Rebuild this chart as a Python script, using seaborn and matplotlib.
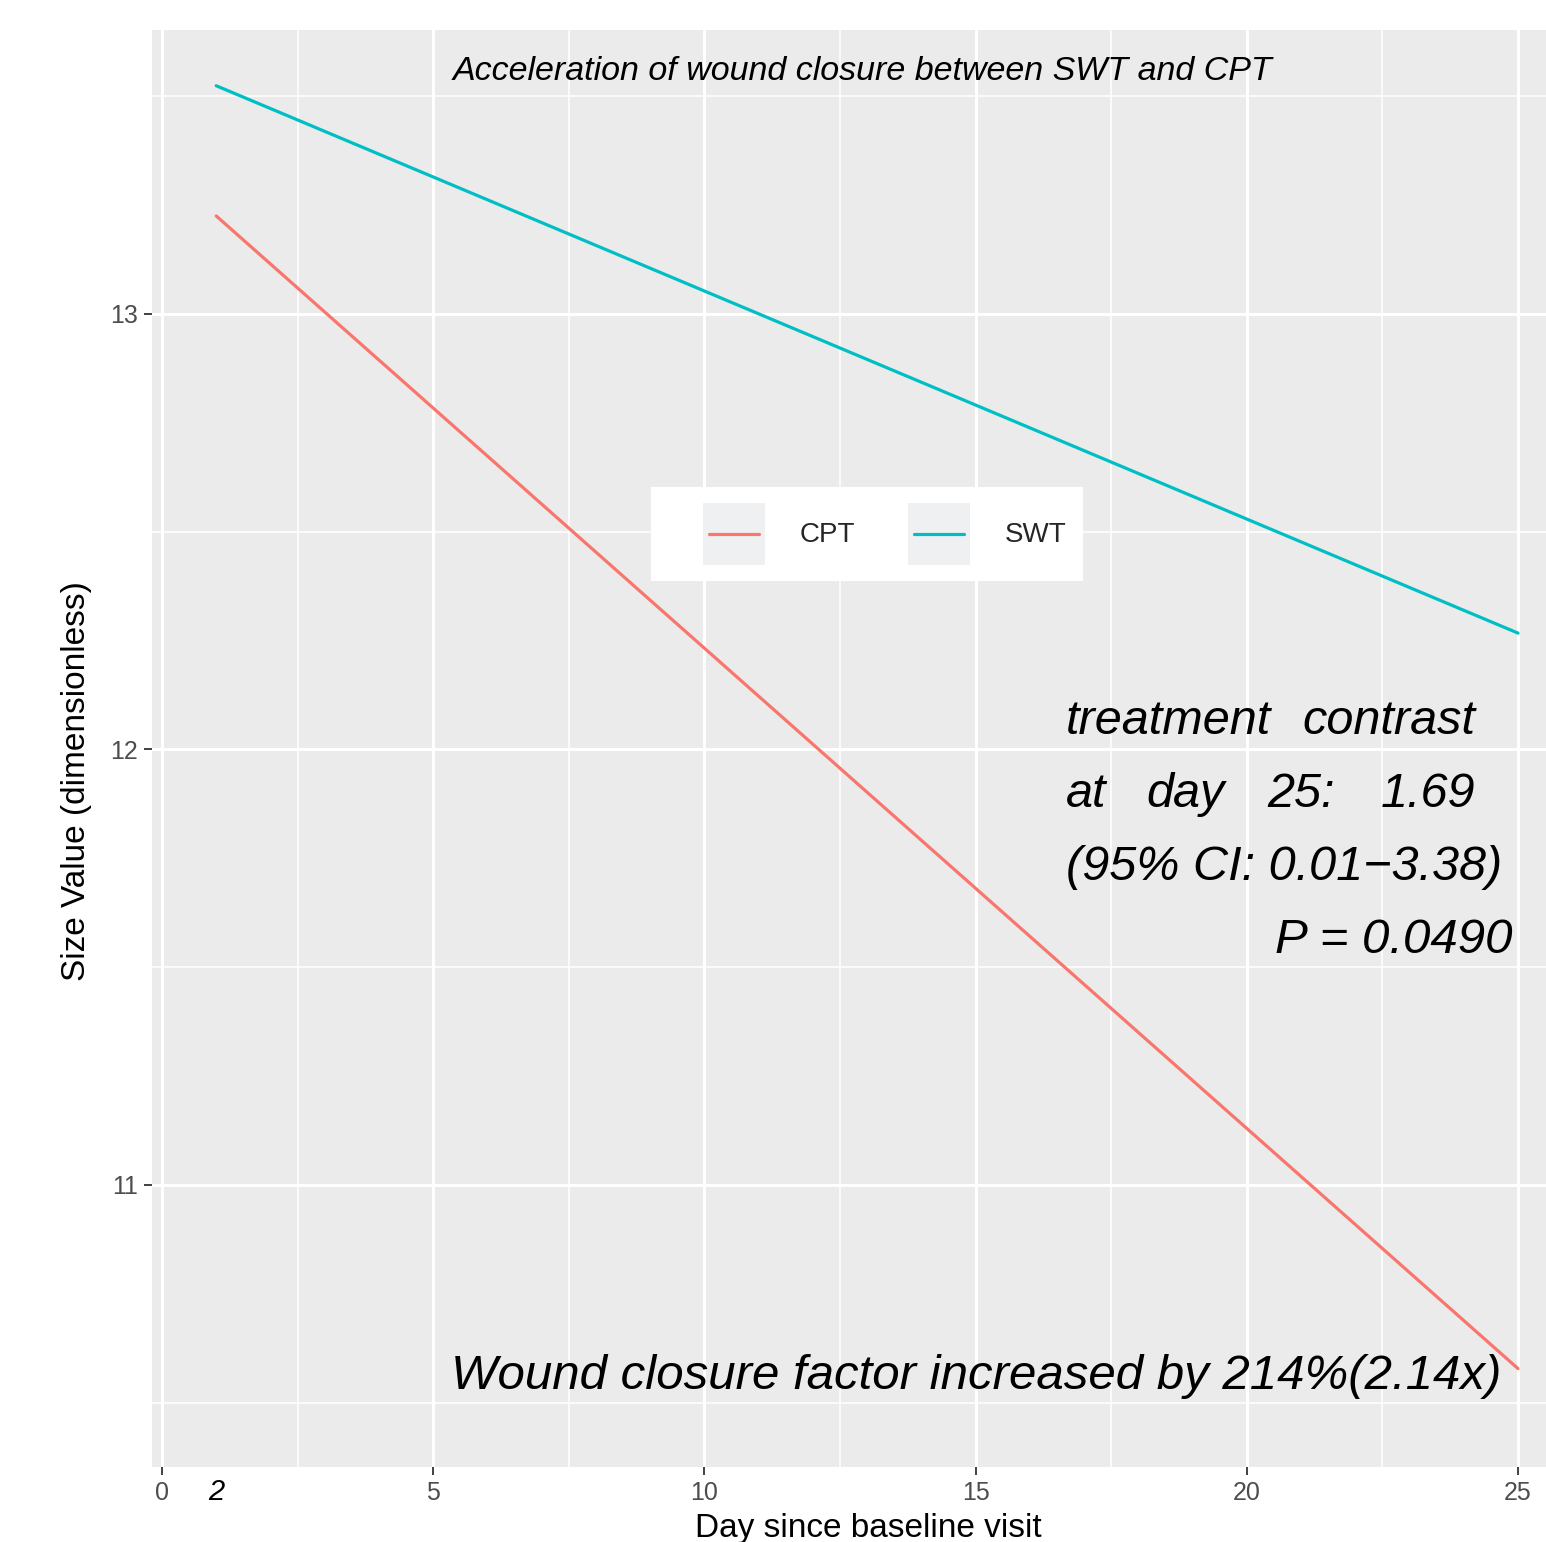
import numpy as np
import pandas as pd
import matplotlib
matplotlib.use("Agg")
import matplotlib.pyplot as plt
import seaborn as sns
from matplotlib.legend_handler import HandlerLine2D
from matplotlib.patches import Rectangle
from matplotlib.lines import Line2D
import matplotlib.transforms as mtransforms

# ---- data ----
days = [1, 25]
cpt_values = [13.225, 10.578]
swt_values = [13.524, 12.267]
groups = ["CPT", "SWT"]
x_ticks = [0, 5, 10, 15, 20, 25]
y_ticks = [11, 12, 13]
start_label = "2"
title_text = "Acceleration of wound closure between SWT and CPT"
factor_text = "Wound closure factor increased by 214%(2.14x)"
contrast_words = [
    [("treatment", 1066), ("contrast", 1302)],
    [("at", 1066), ("day", 1146), ("25:", 1267), ("1.69", 1381)],
    [("(95% CI: 0.01\u22123.38)", 1066)],
]
p_text = "P = 0.0490"

df = pd.DataFrame({
    "day": days + days,
    "size": cpt_values + swt_values,
    "group": ["CPT"] * len(days) + ["SWT"] * len(days),
})

sns.set_theme(style="darkgrid", rc={
    "axes.facecolor": "#EBEBEB",
    "grid.color": "white",
    "xtick.bottom": True,
    "ytick.left": True,
})
plt.rcParams["font.family"] = ["Liberation Sans", "DejaVu Sans"]

W, H = 1546, 1542
fig = plt.figure(figsize=(W / 100, H / 100), dpi=100)
fig.patch.set_facecolor("white")
ax = fig.add_axes([152 / W, 1 - 1467 / H, (W - 152) / W, (1467 - 30) / H])

palette = {"CPT": "#F8766D", "SWT": "#00BFC4"}
sns.lineplot(data=df, x="day", y="size", hue="group", hue_order=groups,
             palette=palette, linewidth=2.3, ax=ax)

x0, x1 = -0.184, 25.516
ax.set_xlim(x0, x1)
ax.set_ylim(10.352, 13.652)
ax.set_xticks(x_ticks)
ax.set_xticks([2.5, 7.5, 12.5, 17.5, 22.5], minor=True)
ax.set_yticks(y_ticks)
ax.set_yticks([10.5, 11.5, 12.5, 13.5], minor=True)
ax.grid(which="major", color="white", linewidth=2.2)
ax.grid(which="minor", color="white", linewidth=1.1)
ax.set_axisbelow(True)
for s in ax.spines.values():
    s.set_visible(False)
ax.tick_params(which="major", length=6, width=1.3, color="#333333",
               labelsize=18, labelcolor="#4D4D4D", pad=4, direction="out",
               bottom=True, left=True)
ax.tick_params(which="minor", length=0, bottom=False, left=False)
ax.set_xlabel("")
ax.set_ylabel("")

def px2x(px):
    return (px - 162) / ((1518 - 162) / 25)

# extra label at the start of the lines
trans = mtransforms.blended_transform_factory(ax.transData, ax.transAxes)
ax.text(days[0], -0.0175, start_label, transform=trans, ha="center", va="center",
        fontsize=21, style="italic", color="black")

# axis labels
fig.text(868 / W, 1 - 1528 / H, "Day since baseline visit", ha="center", va="center",
         fontsize=24, color="black")
fig.text(77 / W, 1 - 781 / H, "Size Value (dimensionless)", ha="center", va="center",
         rotation=90, fontsize=24, color="black")

# title annotation
ax.text((862 - 152) / (W - 152), 1 - (71 - 30) / (1467 - 30), title_text,
        transform=ax.transAxes, ha="center", va="center", fontsize=24.5,
        style="italic", color="black")

# big annotation
ax.text(px2x(976), 10.559, factor_text, ha="center", va="center", fontsize=35.5,
        style="italic", color="black")

# contrast annotation
y_lines = [12.064, 11.896, 11.729]
for words, yy in zip(contrast_words, y_lines):
    for w, px in words:
        ax.text(px2x(px), yy, w, ha="left", va="center", fontsize=35,
                style="italic", color="black")
ax.text(px2x(1512), 11.562, p_text, ha="right", va="center", fontsize=35.5,
        style="italic", color="black")

# legend
class KeyHandler(HandlerLine2D):
    def create_artists(self, legend, orig_handle, xdescent, ydescent, width,
                       height, fontsize, trans):
        bg = Rectangle((-xdescent, -ydescent), width, height,
                       facecolor="#EEF0F2", edgecolor="none", transform=trans)
        y = -ydescent + height / 2
        ln = Line2D([-xdescent + 0.1 * width, -xdescent + 0.9 * width], [y, y],
                    color=orig_handle.get_color(),
                    linewidth=orig_handle.get_linewidth(), transform=trans)
        return [bg, ln]

handles, labels = ax.get_legend_handles_labels()
bx0 = (651 - 152) / (W - 152)
by0 = 1 - (581 - 30) / (1467 - 30)
bw = (1083 - 651) / (W - 152)
bh = (581 - 487) / (1467 - 30)
ax.add_patch(Rectangle((bx0, by0), bw, bh, transform=ax.transAxes,
                       facecolor="white", edgecolor="none", zorder=4))
fs = 20
key_pt = 62 * 72 / 100
leg = ax.legend(handles, labels, ncol=2, loc="center",
                bbox_to_anchor=((885 - 152) / (W - 152), 1 - (534 - 30) / (1467 - 30)),
                frameon=False, fontsize=fs, handlelength=key_pt / fs,
                handleheight=(key_pt / fs - 0.245) / 0.65, handletextpad=1.26,
                columnspacing=1.9, borderpad=0.0,
                handler_map={Line2D: KeyHandler()})
leg.set_zorder(5)

fig.savefig("out.png", dpi=100)
